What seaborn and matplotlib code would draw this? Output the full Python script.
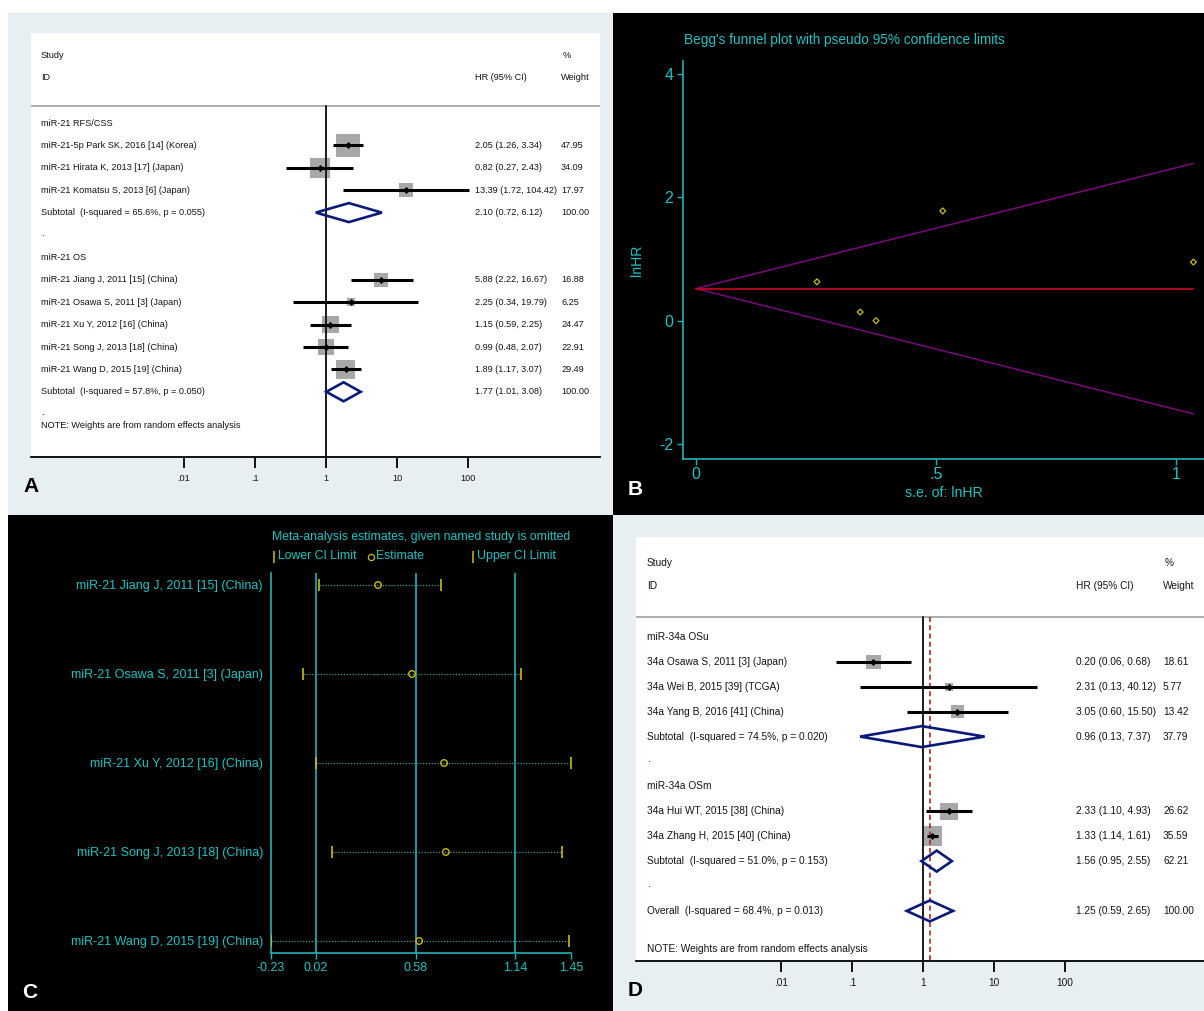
import numpy as np
import pandas as pd
import matplotlib
matplotlib.use("Agg")
import matplotlib.pyplot as plt
from matplotlib.patches import Rectangle, Polygon
from matplotlib.lines import Line2D
from matplotlib.ticker import NullLocator
import seaborn as sns

# ---------------- Panel A: miR-21 forest plot ----------------
a_rfs_label = "miR-21 RFS/CSS"
a_rfs_study = ["miR-21-5p Park SK, 2016 [14] (Korea)",
               "miR-21 Hirata K, 2013 [17] (Japan)",
               "miR-21 Komatsu S, 2013 [6] (Japan)"]
a_rfs_hr = [2.05, 0.82, 13.39]
a_rfs_lo = [1.26, 0.27, 1.72]
a_rfs_hi = [3.34, 2.43, 104.42]
a_rfs_wt = [47.95, 34.09, 17.97]
a_rfs_sub = [2.10, 0.72, 6.12, 100.00]
a_rfs_het = "I-squared = 65.6%, p = 0.055"

a_os_label = "miR-21 OS"
a_os_study = ["miR-21 Jiang J, 2011 [15] (China)",
              "miR-21 Osawa S, 2011 [3] (Japan)",
              "miR-21 Xu Y, 2012 [16] (China)",
              "miR-21 Song J, 2013 [18] (China)",
              "miR-21 Wang D, 2015 [19] (China)"]
a_os_hr = [5.88, 2.25, 1.15, 0.99, 1.89]
a_os_lo = [2.22, 0.34, 0.59, 0.48, 1.17]
a_os_hi = [16.67, 19.79, 2.25, 2.07, 3.07]
a_os_wt = [16.88, 6.25, 24.47, 22.91, 29.49]
a_os_sub = [1.77, 1.01, 3.08, 100.00]
a_os_het = "I-squared = 57.8%, p = 0.050"

# ---------------- Panel B: Begg's funnel plot ----------------
b_se = [0.514, 1.036, 0.342, 0.375, 0.252]
b_lnhr = [1.78, 0.95, 0.14, 0.00, 0.63]
b_pooled = 0.52

# ---------------- Panel C: leave-one-out sensitivity ----------------
c_study = ["miR-21 Jiang J, 2011 [15] (China)",
           "miR-21 Osawa S, 2011 [3] (Japan)",
           "miR-21 Xu Y, 2012 [16] (China)",
           "miR-21 Song J, 2013 [18] (China)",
           "miR-21 Wang D, 2015 [19] (China)"]
c_lower = [0.04, -0.05, 0.02, 0.11, -0.23]
c_est = [0.37, 0.56, 0.74, 0.75, 0.60]
c_upper = [0.72, 1.17, 1.45, 1.40, 1.44]
c_combined = [0.02, 0.58, 1.14]
c_ticks = [-0.23, 0.02, 0.58, 1.14, 1.45]

# ---------------- Panel D: miR-34a forest plot ----------------
d_osu_label = "miR-34a OSu"
d_osu_study = ["34a Osawa S, 2011 [3] (Japan)",
               "34a Wei B, 2015 [39] (TCGA)",
               "34a Yang B, 2016 [41] (China)"]
d_osu_hr = [0.20, 2.31, 3.05]
d_osu_lo = [0.06, 0.13, 0.60]
d_osu_hi = [0.68, 40.12, 15.50]
d_osu_wt = [18.61, 5.77, 13.42]
d_osu_sub = [0.96, 0.13, 7.37, 37.79]
d_osu_het = "I-squared = 74.5%, p = 0.020"

d_osm_label = "miR-34a OSm"
d_osm_study = ["34a Hui WT, 2015 [38] (China)",
               "34a Zhang H, 2015 [40] (China)"]
d_osm_hr = [2.33, 1.33]
d_osm_lo = [1.10, 1.14]
d_osm_hi = [4.93, 1.61]
d_osm_wt = [26.62, 35.59]
d_osm_sub = [1.56, 0.95, 2.55, 62.21]
d_osm_het = "I-squared = 51.0%, p = 0.153"

d_overall = [1.25, 0.59, 2.65, 100.00]
d_overall_het = "I-squared = 68.4%, p = 0.013"

ticks_hr = [0.01, 0.1, 1, 10, 100]
ticks_hr_lab = [".01", ".1", "1", "10", "100"]

# ---------------- style ----------------
sns.set_theme(style="white")
SANS = ["Liberation Sans", "DejaVu Sans"]
plt.rcParams["font.family"] = SANS

PANEL_BG = "#e8eff2"
TXT = "#141414"
BOX = "#a8a8a8"
NAVY = "#0a1a78"
CYAN = "#1cc3c3"
CYAN_LN = "#22b2b4"
DOTC = "#3a9a9a"
YEL = "#c8bc10"
PURPLE = "#7c087c"
RED = "#c0001c"

W, H = 1204, 1011
fig = plt.figure(figsize=(W / 100, H / 100), dpi=100)
fig.patch.set_facecolor("white")


def rect(x0, y0, x1, y1):
    return [x0 / W, 1 - y1 / H, (x1 - x0) / W, (y1 - y0) / H]


def panel_bg(x0, y0, x1, y1, color):
    fig.add_artist(Rectangle((x0 / W, 1 - y1 / H), (x1 - x0) / W, (y1 - y0) / H,
                             transform=fig.transFigure, facecolor=color,
                             edgecolor="none", zorder=-10))


def ftext(x, y, s, **kw):
    kw.setdefault("va", "center")
    kw.setdefault("ha", "left")
    return fig.text(x / W, 1 - y / H, s, **kw)


def fmark(x, y, **kw):
    fig.add_artist(Line2D([x / W], [1 - y / H], transform=fig.transFigure,
                          linestyle="none", **kw))


panel_bg(8, 13, 613, 515, PANEL_BG)
panel_bg(613, 13, 1204, 515, "black")
panel_bg(8, 515, 613, 1011, "black")
panel_bg(613, 515, 1204, 1011, PANEL_BG)


def forest(box, one_x, per_dec, cols, head_y, sep_y, row0, pitch, groups,
           overall, note_y, fs, dia_h, ref_hr=None):
    x0, y0, x1, y1 = box
    sx, hx, wx, px = cols
    ax = fig.add_axes(rect(x0, y0, x1, y1))
    ax.set_facecolor("white")
    ax.set_xscale("log")

    tk = dict(fontsize=fs, color=TXT, family=SANS)
    ftext(sx, head_y[0], "Study", **tk)
    ftext(sx, head_y[1], "ID", **tk)
    ftext(hx, head_y[1], "HR (95% CI)", **tk)
    ftext(px, head_y[0], "%", **tk)
    ftext(wx, head_y[1], "Weight", **tk)

    ax.axhline(sep_y, color="#a6a6a6", lw=1.3, zorder=1)
    ax.plot([1, 1], [sep_y, y1], color="#1a1a1a", lw=1.4, zorder=2.5)
    if ref_hr is not None:
        ax.plot([ref_hr, ref_hr], [sep_y, y1], color="#a01818", lw=1.1,
                ls=(0, (3.2, 2.2)), zorder=2.6)

    def diamond(y, hr, lo, hi):
        ax.add_patch(Polygon([(lo, y), (hr, y - dia_h), (hi, y), (hr, y + dia_h)],
                             closed=True, fill=False, edgecolor=NAVY, lw=1.9,
                             joinstyle="miter", zorder=3))

    i = 0
    for label, names, hr, lo, hi, wt, sub, het in groups:
        ftext(sx, row0 + i * pitch, label, **tk)
        i += 1
        ys = [row0 + (i + k) * pitch for k in range(len(names))]
        for k, name in enumerate(names):
            ftext(sx, ys[k], name, **tk)
            ftext(hx, ys[k], f"{hr[k]:.2f} ({lo[k]:.2f}, {hi[k]:.2f})", **tk)
            ftext(wx, ys[k], f"{wt[k]:.2f}", **tk)
        sizes = [(3.4 * np.sqrt(w) * 0.72) ** 2 for w in wt]
        sns.scatterplot(x=hr, y=ys, marker="s", s=sizes, color=BOX, linewidth=0,
                        ax=ax, zorder=2, legend=False)
        ax.hlines(ys, lo, hi, color="black", lw=2.2, zorder=3)
        sns.scatterplot(x=hr, y=ys, marker="D", s=13, color="black", linewidth=0,
                        ax=ax, zorder=4, legend=False)
        i += len(names)
        ysub = row0 + i * pitch
        diamond(ysub, sub[0], sub[1], sub[2])
        ftext(sx, ysub, f"Subtotal  ({het})", **tk)
        ftext(hx, ysub, f"{sub[0]:.2f} ({sub[1]:.2f}, {sub[2]:.2f})", **tk)
        ftext(wx, ysub, f"{sub[3]:.2f}", **tk)
        i += 1
        ftext(sx, row0 + i * pitch - 2, ".", **tk)
        i += 1
    if overall is not None:
        vals, het = overall
        yo = row0 + i * pitch
        diamond(yo, vals[0], vals[1], vals[2])
        ftext(sx, yo, f"Overall  ({het})", **tk)
        ftext(hx, yo, f"{vals[0]:.2f} ({vals[1]:.2f}, {vals[2]:.2f})", **tk)
        ftext(wx, yo, f"{vals[3]:.2f}", **tk)
    ftext(sx, note_y, "NOTE: Weights are from random effects analysis", **tk)

    ax.set_xlim(10 ** ((x0 - one_x) / per_dec), 10 ** ((x1 - one_x) / per_dec))
    ax.set_ylim(y1, y0)
    ax.set_xticks(ticks_hr)
    ax.set_xticklabels(ticks_hr_lab)
    ax.xaxis.set_minor_locator(NullLocator())
    ax.set_yticks([])
    ax.tick_params(axis="x", bottom=True, direction="out", length=8, width=1.3,
                   color="black", pad=4.5, labelsize=fs, labelcolor=TXT)
    for s in ["top", "right", "left"]:
        ax.spines[s].set_visible(False)
    ax.spines["bottom"].set_color("black")
    ax.spines["bottom"].set_linewidth(1.3)
    ax.set_xlabel("")
    ax.set_ylabel("")
    return ax


# Panel A
forest(box=(31, 33, 600, 457), one_x=326, per_dec=71,
       cols=(41, 475, 561, 563), head_y=(56, 78), sep_y=106,
       row0=123, pitch=22.4,
       groups=[(a_rfs_label, a_rfs_study, a_rfs_hr, a_rfs_lo, a_rfs_hi, a_rfs_wt,
                a_rfs_sub, a_rfs_het),
               (a_os_label, a_os_study, a_os_hr, a_os_lo, a_os_hi, a_os_wt,
                a_os_sub, a_os_het)],
       overall=None, note_y=426, fs=6.6, dia_h=9.5)
ftext(23, 486, "A", fontsize=15, fontweight="bold", color="black", family=SANS)

# Panel D
forest(box=(636, 537, 1204, 961), one_x=923, per_dec=71,
       cols=(647, 1076, 1163, 1165), head_y=(563, 586), sep_y=617,
       row0=637, pitch=24.9,
       groups=[(d_osu_label, d_osu_study, d_osu_hr, d_osu_lo, d_osu_hi, d_osu_wt,
                d_osu_sub, d_osu_het),
               (d_osm_label, d_osm_study, d_osm_hr, d_osm_lo, d_osm_hi, d_osm_wt,
                d_osm_sub, d_osm_het)],
       overall=(d_overall, d_overall_het), note_y=949, fs=7.3, dia_h=10.5,
       ref_hr=d_overall[0])
ftext(628, 990, "D", fontsize=15, fontweight="bold", color="black", family=SANS)

# Panel B: funnel plot
ax_b = fig.add_axes(rect(683, 61, 1204, 459))
ax_b.set_facecolor("black")
se_max = max(b_se)
funnel = pd.DataFrame({
    "se": [0, se_max, 0, se_max],
    "limit": [b_pooled, b_pooled + 1.96 * se_max, b_pooled, b_pooled - 1.96 * se_max],
    "side": ["upper", "upper", "lower", "lower"],
})
sns.lineplot(data=funnel, x="se", y="limit", hue="side",
             palette={"upper": PURPLE, "lower": PURPLE}, lw=1.1, legend=False,
             ax=ax_b, zorder=2)
sns.lineplot(x=[0, se_max], y=[b_pooled, b_pooled], color=RED, lw=1.3, ax=ax_b, zorder=3)
sns.scatterplot(x=b_se, y=b_lnhr, marker="D", s=9, facecolor="none", edgecolor=YEL,
                linewidth=0.9, ax=ax_b, zorder=4, legend=False)
ax_b.set_xlim(-0.027, 1.058)
ax_b.set_ylim(-2.243, 4.211)
ax_b.set_xticks([0, 0.5, 1])
ax_b.set_xticklabels(["0", ".5", "1"])
ax_b.set_yticks([-2, 0, 2, 4])
ax_b.set_yticklabels(["-2", "0", "2", "4"])
ax_b.tick_params(axis="both", direction="out", length=4.5, width=1.0, color=CYAN_LN,
                 labelcolor=CYAN, labelsize=11.5, bottom=True, left=True)
ax_b.tick_params(axis="x", pad=1.2)
ax_b.tick_params(axis="y", pad=2.5)
for s in ["top", "right"]:
    ax_b.spines[s].set_visible(False)
for s in ["left", "bottom"]:
    ax_b.spines[s].set_color(CYAN_LN)
    ax_b.spines[s].set_linewidth(1.2)
ax_b.set_xlabel("")
ax_b.set_ylabel("")
ftext(684, 40, "Begg's funnel plot with pseudo 95% confidence limits",
      fontsize=9.8, color=CYAN)
ftext(637, 260, "lnHR", fontsize=10.2, color=CYAN, rotation=90, ha="center")
ftext(944, 493, "s.e. of: lnHR", fontsize=10.2, color=CYAN, ha="center")
ftext(628, 490, "B", fontsize=15, fontweight="bold", color="white", family=SANS)

# Panel C: influence analysis
ax_c = fig.add_axes(rect(271, 572.7, 570.8, 953))
ax_c.set_facecolor("black")
ypos = np.arange(1, len(c_study) + 1)
for v in c_combined:
    ax_c.axvline(v, color=CYAN_LN, lw=1.2, zorder=1)
ax_c.hlines(ypos, c_lower, c_upper, colors=DOTC, linestyles=(0, (1, 1.3)), lw=0.9,
            zorder=2)
ax_c.plot(c_lower, ypos, ls="none", marker="|", ms=8, mew=1.2, color=YEL, zorder=3)
ax_c.plot(c_upper, ypos, ls="none", marker="|", ms=8, mew=1.2, color=YEL, zorder=3)
sns.scatterplot(x=c_est, y=ypos, marker="o", s=22, facecolor="none", edgecolor=YEL,
                linewidth=1.0, ax=ax_c, zorder=4, legend=False)
ax_c.set_xlim(c_ticks[0], c_ticks[-1])
ax_c.set_ylim(5.135, 0.862)
ax_c.set_xticks(c_ticks)
ax_c.set_xticklabels([f"{t:.2f}" for t in c_ticks])
ax_c.set_yticks(ypos)
ax_c.set_yticklabels(c_study)
ax_c.tick_params(axis="x", bottom=True, direction="out", length=4.5, width=1.0,
                 color=CYAN_LN, labelcolor=CYAN, labelsize=9.0, pad=1.8)
ax_c.tick_params(axis="y", left=False, length=0, pad=5.8, labelcolor=CYAN,
                 labelsize=9.0)
for s in ["top", "right"]:
    ax_c.spines[s].set_visible(False)
for s in ["left", "bottom"]:
    ax_c.spines[s].set_color(CYAN_LN)
    ax_c.spines[s].set_linewidth(1.2)
ax_c.set_xlabel("")
ax_c.set_ylabel("")
ftext(421, 537, "Meta-analysis estimates, given named study is omitted",
      fontsize=8.8, color=CYAN, ha="center")
fmark(273.5, 556.5, marker="|", ms=8, mew=1.1, color=YEL)
ftext(278, 556, "Lower CI Limit", fontsize=8.8, color=CYAN)
fmark(371, 556.5, marker="o", ms=4.5, mew=0.9, markerfacecolor="none",
      markeredgecolor=YEL)
ftext(376, 556, "Estimate", fontsize=8.8, color=CYAN)
fmark(473, 556.5, marker="|", ms=8, mew=1.1, color=YEL)
ftext(477, 556, "Upper CI Limit", fontsize=8.8, color=CYAN)
ftext(22, 993, "C", fontsize=15, fontweight="bold", color="white", family=SANS)

fig.savefig("out.png", dpi=100, facecolor=fig.get_facecolor())
